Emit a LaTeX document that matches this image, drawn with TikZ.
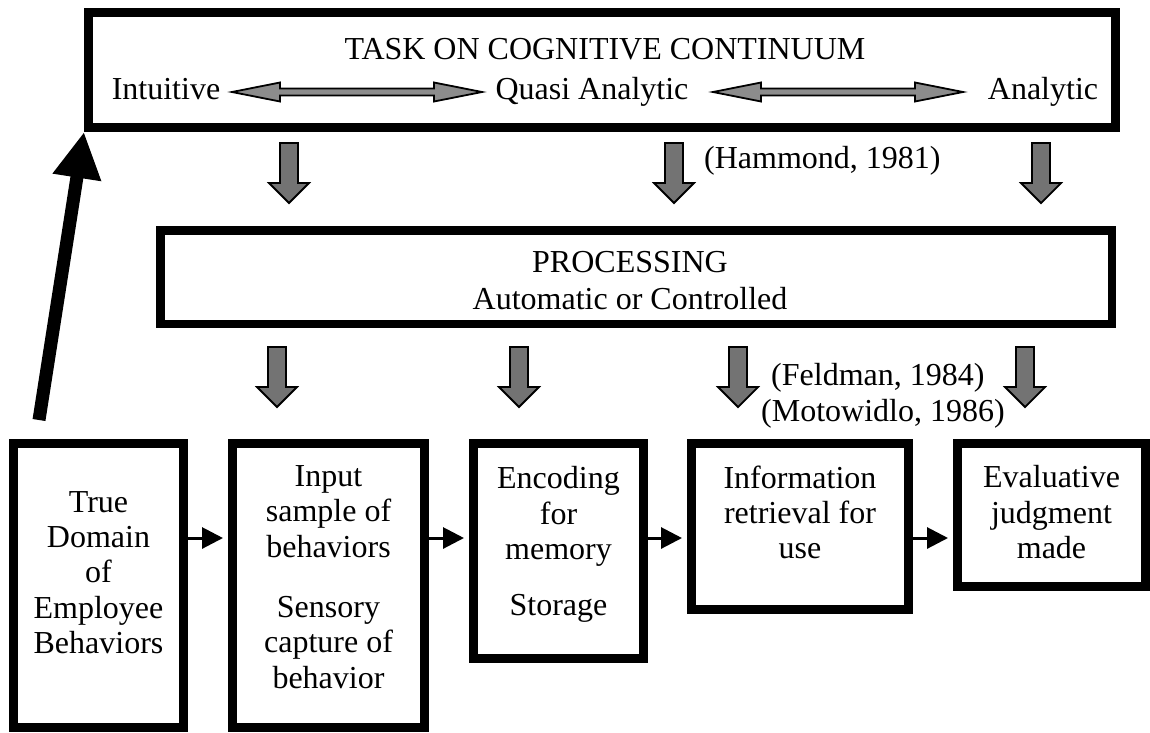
\documentclass[tikz,border=0pt]{standalone}
\usepackage{fontspec}
\setmainfont{Liberation Serif}
\usetikzlibrary{arrows.meta,calc}
\newcommand\graydownarrow[2]{%
  \draw[blockarrow] (#1-9,#2) -- (#1+9,#2) -- (#1+9,#2+40) -- (#1+20,#2+40) -- (#1,#2+60) -- (#1-20,#2+40) -- (#1-9,#2+40) -- cycle;}
\newcommand\graydoublearrow[3]{%
  \draw[duoarrow] (#1,#3) -- (#1+48,#3-9.5) -- (#1+48,#3-3.5) -- (#2-48,#3-3.5) -- (#2-48,#3-9.5) -- (#2,#3) -- (#2-48,#3+9.5) -- (#2-48,#3+3.5) -- (#1+48,#3+3.5) -- (#1+48,#3+9.5) -- cycle;}
\begin{document}
\begin{tikzpicture}[x=1pt,y=-1pt,
  every node/.style={inner sep=0pt},
  lbl/.style={font=\fontsize{32}{35.3}\selectfont},
  mlbl/.style={font=\fontsize{32}{35.3}\selectfont, align=center, anchor=north},
  frame/.style={draw, line width=9pt},
  blockarrow/.style={draw, line width=1.8pt, fill=black!55, line join=miter},
  duoarrow/.style={draw, line width=1.8pt, fill=black!45, line join=miter},
  flow/.style={line width=3pt, -{Triangle[length=21pt,width=21pt]}, shorten >=5pt},
  bigarrow/.style={line width=13pt, -{Triangle[length=46pt,width=46pt]}}
]
\fill[white] (0,0) rectangle (1150,732);
\useasboundingbox (0,0) rectangle (1150,732);

% top box
\node[frame, minimum width=1027pt, minimum height=115pt] (task) at (602,70) {};
\node[lbl, anchor=base] (title) at (605,59) {TASK ON COGNITIVE CONTINUUM};
\node[lbl, anchor=base] (intu) at (166,99) {Intuitive};
\node[lbl, anchor=base] (quasi) at (592,99) {Quasi Analytic};
\node[lbl, anchor=base] (anal) at (1043,99) {Analytic};
\graydoublearrow{232}{482}{92}
\graydoublearrow{713}{963}{92}

% arrows task -> processing
\graydownarrow{289}{143}
\graydownarrow{674}{143}
\graydownarrow{1041}{143}
\node[lbl, anchor=base west] (hammond) at (704,168) {(Hammond, 1981)};

% processing
\node[frame, line width=8.5pt, minimum width=951.5pt, minimum height=93.5pt] (proc) at (636,277) {};
\node[lbl, anchor=base] (proct) at (630,272) {PROCESSING};
\node[lbl, anchor=base] (procs) at (630,309) {Automatic or Controlled};

% arrows processing -> stages
\graydownarrow{277}{347}
\graydownarrow{519}{347}
\graydownarrow{738}{347}
\graydownarrow{1025}{347}
\node[lbl, anchor=base west] (feld) at (771,385) {(Feldman, 1984)};
\node[lbl, anchor=base west] (moto) at (761,421) {(Motowidlo, 1986)};

% stage boxes
\node[frame, minimum width=170pt, minimum height=284pt] (b1) at (98.5,585.5) {};
\node[mlbl] (t1) at (98.5,491) {True\\Domain\\of\\Employee\\Behaviors};
\node[frame, minimum width=192pt, minimum height=284pt] (b2) at (328.5,585.5) {};
\node[mlbl] (t2) at (328.5,465.5) {Input\\sample of\\behaviors\\[25pt]Sensory\\capture of\\behavior};
\node[frame, minimum width=170pt, minimum height=215pt] (b3) at (558.5,551) {};
\node[mlbl] (t3) at (558.5,466.5) {Encoding\\for\\memory\\[21pt]Storage};
\node[frame, minimum width=217pt, minimum height=166pt] (b4) at (800,526.5) {};
\node[mlbl] (t4) at (800,465.5) {Information\\retrieval for\\use};
\node[frame, minimum width=188pt, minimum height=143pt] (b5) at (1051.5,515) {};
\node[mlbl] (t5) at (1051.5,465.5) {Evaluative\\judgment\\made};

\coordinate (row) at (0,538);
\draw[flow] (b1.east |- row) -- (b2.west |- row);
\draw[flow] (b2.east |- row) -- (b3.west |- row);
\draw[flow] (b3.east |- row) -- (b4.west |- row);
\draw[flow] (b4.east |- row) -- (b5.west |- row);

% feedback arrow
\coordinate (tail) at (39,420);
\draw[bigarrow] (tail) -- (task.south west);
\end{tikzpicture}
\end{document}
